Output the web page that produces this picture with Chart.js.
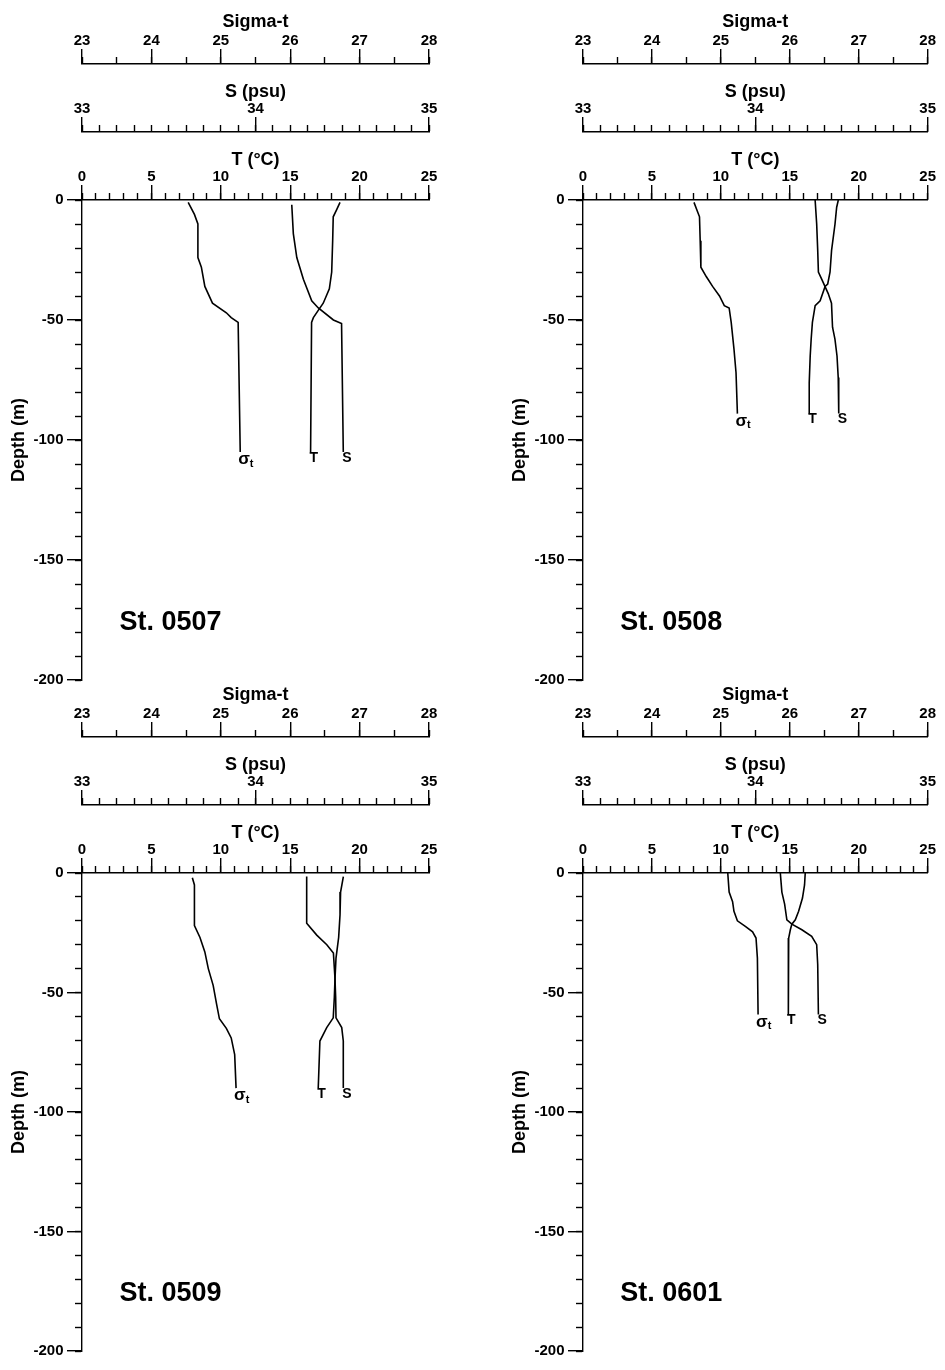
<!DOCTYPE html>
<html><head><meta charset="utf-8">
<script src="https://cdn.jsdelivr.net/npm/chart.js@4"></script>
<style>
html,body{margin:0;padding:0;background:#fff;}
body{width:945px;height:1370px;position:relative;overflow:hidden;}
canvas{position:absolute;}
</style></head><body>
<canvas id="c0507" width="472" height="700" style="left:0;top:0"></canvas>
<canvas id="c0508" width="444" height="700" style="left:501px;top:0"></canvas>
<canvas id="c0509" width="472" height="697" style="left:0;top:673px"></canvas>
<canvas id="c0601" width="444" height="697" style="left:501px;top:673px"></canvas>
<script>
// ---- tick labels ----
const sigmaLabels = [23, 24, 25, 26, 27, 28];
const sLabels = [33, 34, 35];
const tLabels = [0, 5, 10, 15, 20, 25];
const depthLabels = [0, -50, -100, -150, -200];

// ---- St. 0507 ----
const d0507_sig = [-1, -6, -10, -24, -28, -36, -43, -47, -49, -51, -105];
const v0507_sig = [24.53, 24.62, 24.67, 24.67, 24.72, 24.77, 24.88, 25.08, 25.15, 25.25, 25.28];
const d0507_T = [-1, -4, -7, -17, -30, -37, -43, -46, -49, -51, -105];
const v0507_T = [18.59, 18.35, 18.10, 18.06, 17.99, 17.82, 17.38, 17.02, 16.67, 16.54, 16.47];
const d0507_S = [-2, -14, -24, -33, -42, -45, -50, -51.5, -105];
const v0507_S = [34.209, 34.218, 34.238, 34.276, 34.324, 34.362, 34.449, 34.496, 34.506];

// ---- St. 0508 ----
const d0508_sig = [-1, -7, -17, -28, -32, -36, -40, -44, -45, -51, -62, -72, -89];
const v0508_sig = [24.61, 24.69, 24.70, 24.71, 24.79, 24.88, 24.98, 25.05, 25.12, 25.15, 25.19, 25.22, 25.24];
const d0508_T = [0, -3, -10, -21, -30, -35, -36, -42, -44, -51, -58, -65, -76, -89];
const v0508_T = [18.52, 18.40, 18.28, 18.03, 17.92, 17.75, 17.56, 17.20, 16.84, 16.64, 16.55, 16.48, 16.41, 16.41];
const d0508_S = [0, -10, -21, -30, -33, -36, -39, -43, -53, -58, -65, -74, -89];
const v0508_S = [34.347, 34.356, 34.362, 34.366, 34.385, 34.404, 34.423, 34.442, 34.448, 34.462, 34.474, 34.481, 34.484];

// ---- St. 0509 ----
const d0509_sig = [-2, -5, -22, -27, -33, -40, -47, -55, -61, -65, -69, -76, -90];
const v0509_sig = [24.59, 24.62, 24.62, 24.70, 24.77, 24.82, 24.89, 24.94, 24.98, 25.08, 25.15, 25.20, 25.22];
const d0509_T = [-1.5, -8, -17.5, -27, -35.6, -44, -52, -60.6, -64.7, -70.3, -90];
const v0509_T = [18.83, 18.63, 18.59, 18.49, 18.30, 18.23, 18.18, 18.10, 17.63, 17.14, 17.02];
const d0509_S = [-1.5, -21, -26, -30, -33.5, -44, -52, -60.6, -64.7, -70.3, -90];
const v0509_S = [34.295, 34.295, 34.353, 34.411, 34.449, 34.458, 34.462, 34.464, 34.497, 34.506, 34.506];

// ---- St. 0601 ----
const d0601_sig = [0, -8, -12, -16, -20, -22.4, -24.6, -27.2, -35.6, -59.2];
const v0601_sig = [25.10, 25.12, 25.17, 25.19, 25.24, 25.36, 25.46, 25.51, 25.53, 25.54];
const d0601_T = [0, -5, -10.5, -16, -19.6, -21.4, -23.75, -27.2, -38.3, -59.2];
const v0601_T = [16.12, 16.07, 15.92, 15.64, 15.40, 15.15, 15.04, 14.92, 14.92, 14.87];
const d0601_S = [0, -8, -13, -19.6, -21.4, -23.75, -26.5, -30, -38.3, -59.2];
const v0601_S = [34.145, 34.154, 34.170, 34.183, 34.212, 34.270, 34.327, 34.356, 34.362, 34.366];

const FAMILY = '"Liberation Sans", Arial, Helvetica, sans-serif';
Chart.defaults.font.family = FAMILY;
Chart.defaults.color = '#000';

const pts = (vals, deps) => vals.map((v, i) => ({x: v, y: deps[i]}));
const hasLabel = (labs, v) => labs.some(l => Math.abs(l - v) < 1e-6);

const tickFont = {size: 15, weight: 'bold', lineHeight: 1};
const titleFont = {size: 18, weight: 'bold', lineHeight: 1};
const AXW = 1.4;

function topAxis(min, max, step, labels, title, weight, height, titleTop) {
  return {
    type: 'linear', axis: 'x', position: 'top', min: min, max: max, weight: weight,
    ticks: {stepSize: step, autoSkip: false, maxRotation: 0, minRotation: 0, padding: 9,
      font: tickFont, color: '#000',
      callback: v => hasLabel(labels, v) ? String(Math.round(v)) : ''},
    grid: {drawOnChartArea: false, drawTicks: true, tickLength: 7, tickColor: '#000', tickWidth: AXW},
    border: {display: true, color: '#000', width: AXW},
    title: {display: true, text: title, font: titleFont, color: '#000', padding: {top: titleTop, bottom: 0}},
    afterFit: s => { s.height = height; }
  };
}

const deco = {
  id: 'deco',
  afterDraw(chart, args, opts) {
    const ctx = chart.ctx, sc = chart.scales;
    ctx.save();
    ctx.strokeStyle = '#000';
    ctx.lineWidth = AXW;
    const al = p => Math.round(p - AXW / 2) + AXW / 2;
    [['x', tLabels], ['xs', sLabels], ['xsig', sigmaLabels]].forEach(([id, labs]) => {
      const s = sc[id];
      labs.forEach(v => {
        const px = al(s.getPixelForValue(v));
        ctx.beginPath(); ctx.moveTo(px, s.bottom - 15); ctx.lineTo(px, s.bottom); ctx.stroke();
      });
    });
    const y = sc.y;
    depthLabels.forEach(v => {
      const py = al(y.getPixelForValue(v));
      ctx.beginPath(); ctx.moveTo(y.right - 15, py); ctx.lineTo(y.right, py); ctx.stroke();
    });
    // curve labels at the deepest point of each profile
    const last = i => { const d = chart.getDatasetMeta(i).data; return d[d.length - 1]; };
    const pT = last(0), pS = last(1), pG = last(2);
    ctx.fillStyle = '#000';
    ctx.textAlign = 'left';
    ctx.textBaseline = 'top';
    ctx.font = 'bold 14px ' + FAMILY;
    ctx.fillText('T', pT.x - 1, pT.y - 1);
    ctx.fillText('S', pS.x - 1, pS.y - 1);
    ctx.font = 'bold 17px ' + FAMILY;
    ctx.fillText('σ', pG.x - 2, pG.y - 1);
    const w = ctx.measureText('σ').width;
    ctx.font = 'bold 11px ' + FAMILY;
    ctx.fillText('t', pG.x - 2 + w, pG.y + 6);
    // station name
    ctx.font = 'bold 27px ' + FAMILY;
    ctx.textBaseline = 'middle';
    ctx.fillText(opts.station, sc.x.getPixelForValue(2.7), y.getPixelForValue(-176));
    ctx.restore();
  }
};

function makePanel(id, station, T, dT, S, dS, G, dG, padRight, padBottom) {
  const lineDs = (data, axis) => ({
    data: data, xAxisID: axis, yAxisID: 'y', showLine: true, pointRadius: 0,
    borderColor: '#000', borderWidth: 1.6, tension: 0, fill: false
  });
  new Chart(document.getElementById(id), {
    type: 'scatter',
    data: {datasets: [
      lineDs(pts(T, dT), 'x'),
      lineDs(pts(S, dS), 'xs'),
      lineDs(pts(G, dG), 'xsig')
    ]},
    options: {
      responsive: false, animation: false, events: [],
      devicePixelRatio: 1,
      layout: {padding: {left: 0, top: 0, right: padRight, bottom: padBottom}},
      plugins: {legend: {display: false}, tooltip: {enabled: false}, deco: {station: station}},
      scales: {
        x: topAxis(0, 25, 1, tLabels, 'T (°C)', 0, 68, 19),
        xs: topAxis(33, 35, 0.1, sLabels, 'S (psu)', 1, 68, 19),
        xsig: topAxis(23, 28, 0.5, sigmaLabels, 'Sigma-t', 2, 64, 13),
        y: {
          type: 'linear', position: 'left', min: -200, max: 0,
          ticks: {stepSize: 10, autoSkip: false, padding: 11.5, font: tickFont, color: '#000',
            callback: v => hasLabel(depthLabels, v) ? String(Math.round(v)) : ''},
          grid: {drawOnChartArea: false, drawTicks: true, tickLength: 7, tickColor: '#000', tickWidth: AXW},
          border: {display: true, color: '#000', width: AXW},
          title: {display: true, text: 'Depth (m)', font: {size: 18, weight: 'bold', lineHeight: 1}, color: '#000',
            padding: {top: 10.5, bottom: 0}},
          afterFit: s => { s.width = 82; }
        }
      }
    },
    plugins: [deco]
  });
}

makePanel('c0507', 'St. 0507', v0507_T, d0507_T, v0507_S, d0507_S, v0507_sig, d0507_sig, 43, 20);
makePanel('c0508', 'St. 0508', v0508_T, d0508_T, v0508_S, d0508_S, v0508_sig, d0508_sig, 16, 20);
makePanel('c0509', 'St. 0509', v0509_T, d0509_T, v0509_S, d0509_S, v0509_sig, d0509_sig, 43, 18);
makePanel('c0601', 'St. 0601', v0601_T, d0601_T, v0601_S, d0601_S, v0601_sig, d0601_sig, 16, 18);
</script>
</body></html>
